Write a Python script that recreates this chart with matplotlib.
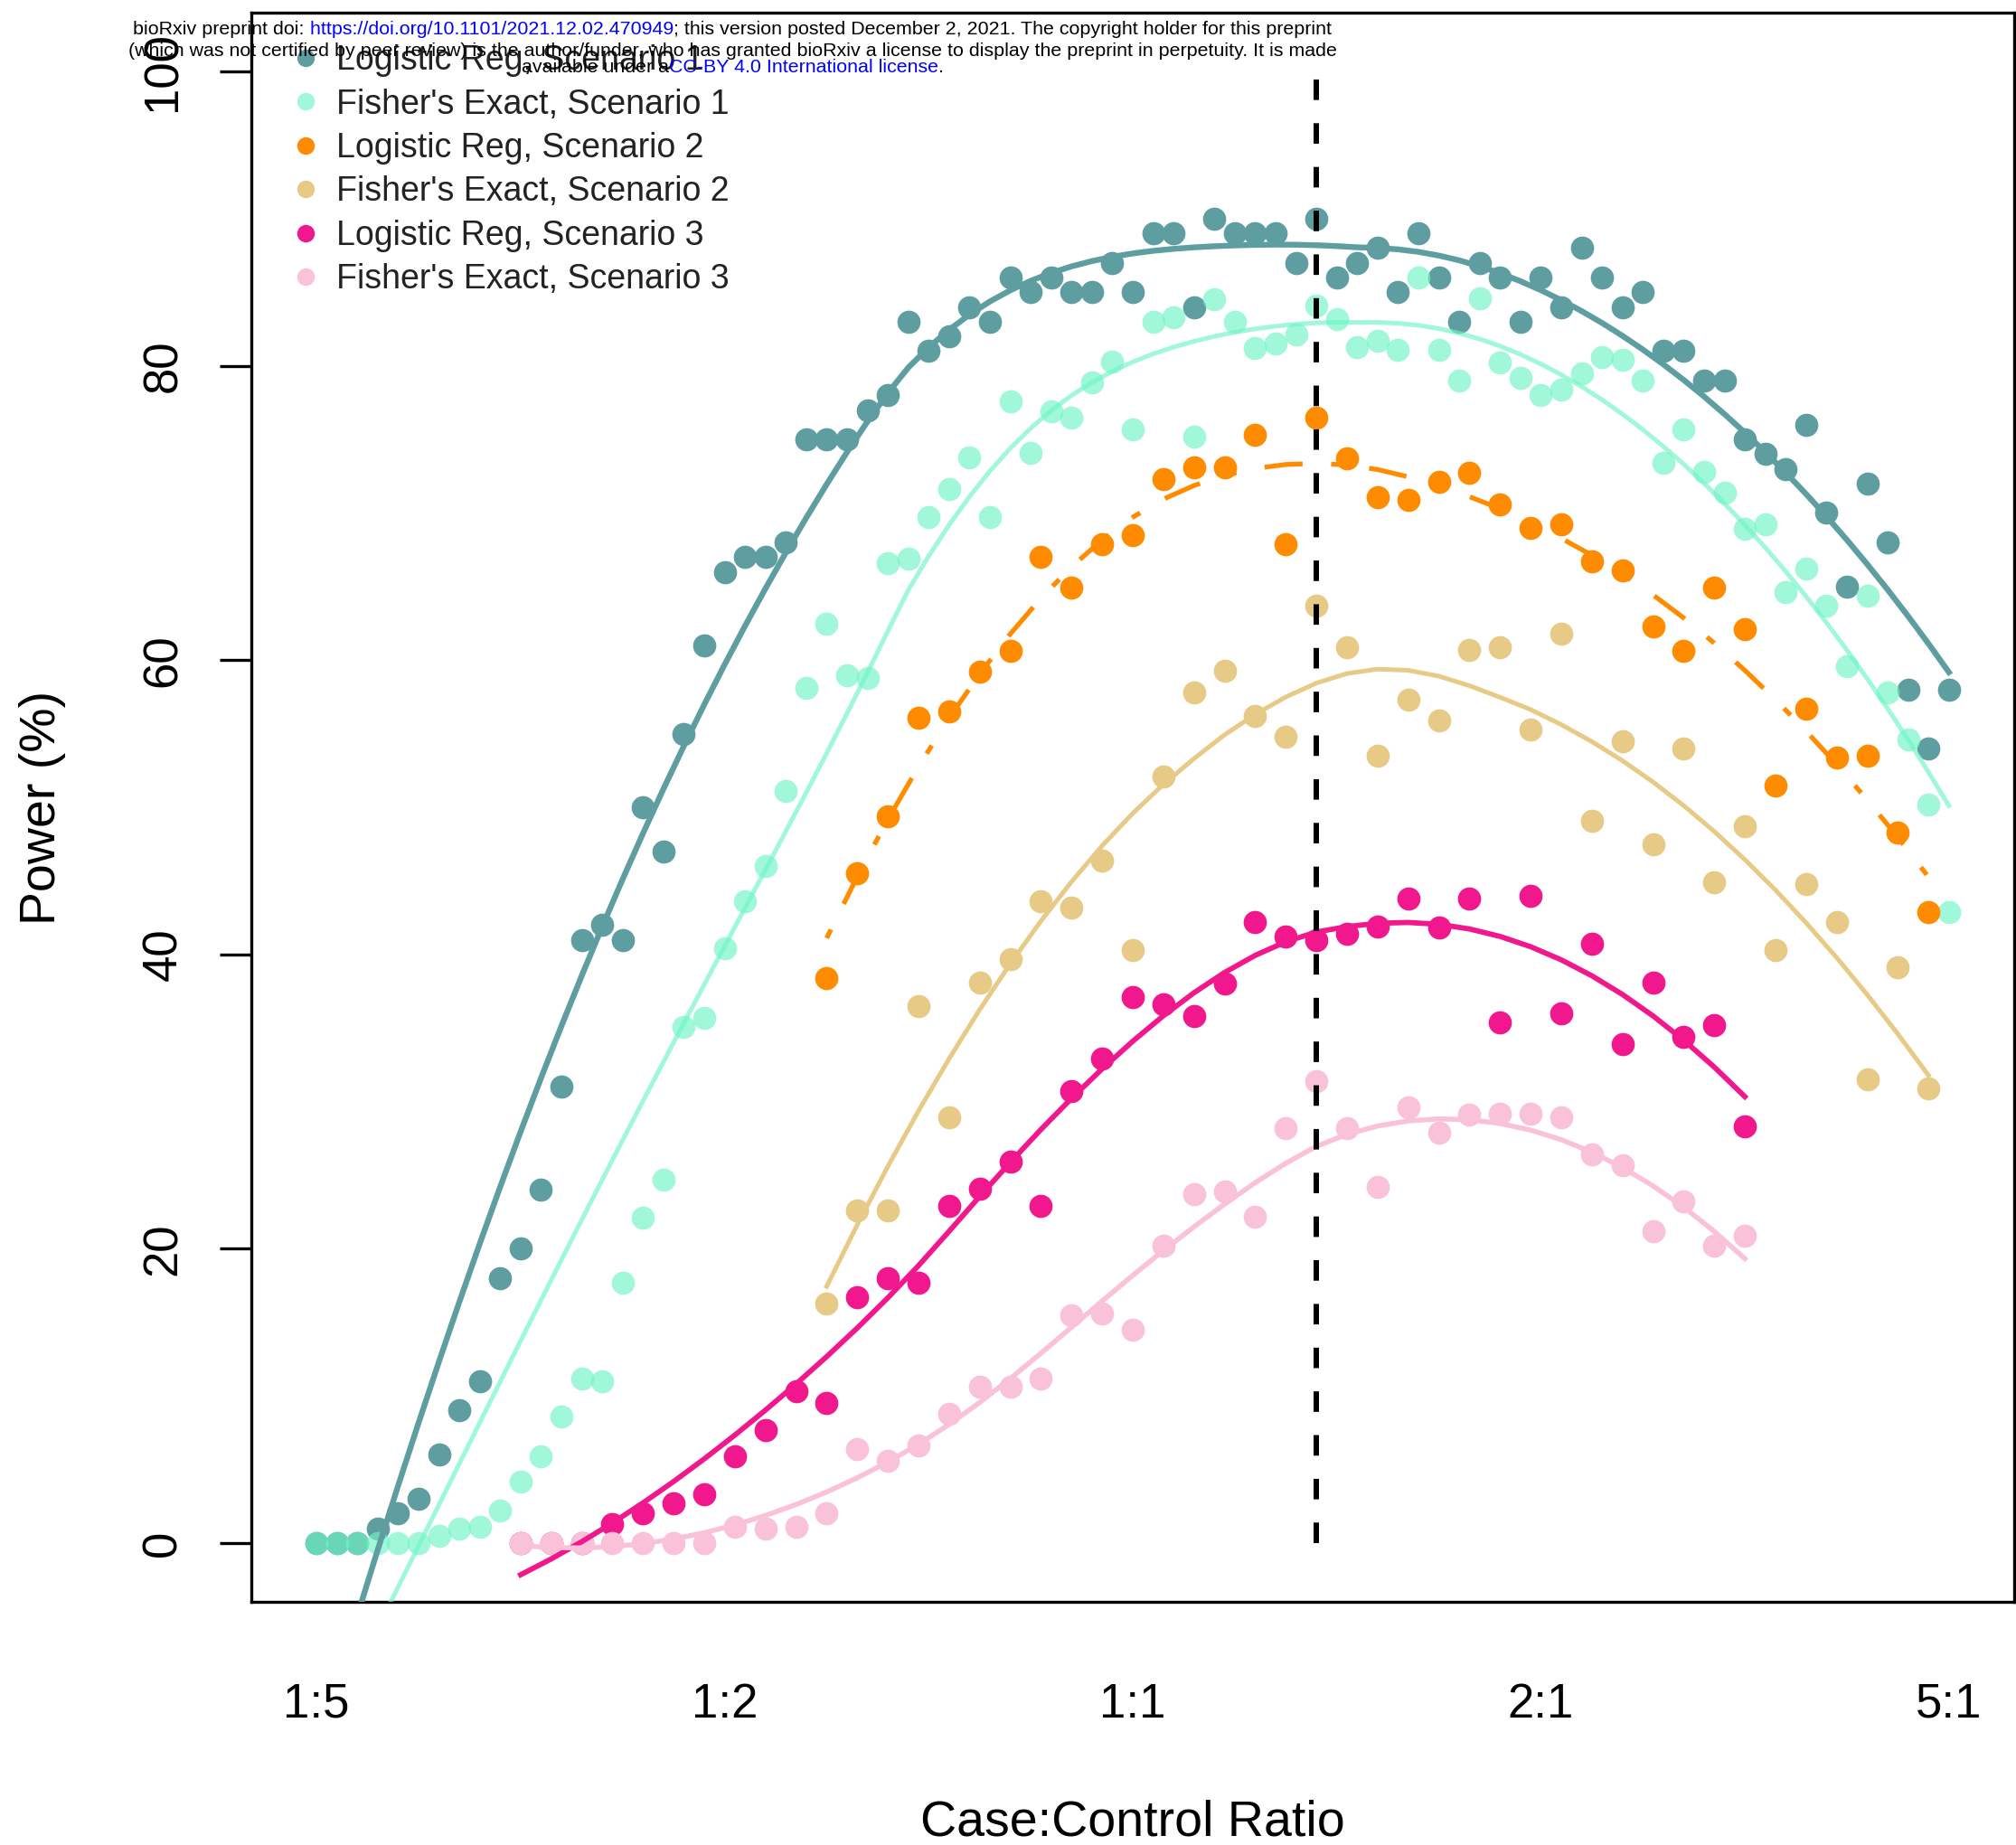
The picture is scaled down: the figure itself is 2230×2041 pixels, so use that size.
import numpy as np
import matplotlib
matplotlib.use("Agg")
import matplotlib.pyplot as plt
from matplotlib.lines import Line2D
from matplotlib.offsetbox import TextArea, HPacker, AnnotationBbox

plt.rcParams["font.family"] = ["Liberation Sans", "DejaVu Sans"]

# x = share of cases in the sample (1:5 -> 1/6 ... 5:1 -> 5/6)
prop_s1 = np.arange(20, 101) / 120
prop_s2 = np.arange(30, 67) / 80
prop_s3 = np.arange(20, 61) / 80

logit_s1 = [0, 0, 0, 1, 2, 3, 6, 9, 11, 18, 20, 24, 31, 41, 42, 41, 50, 47, 55, 61,
            66, 67, 67, 68, 75, 75, 75, 77, 78, 83, 81, 82, 84, 83, 86, 85, 86, 85, 85, 87,
            85, 89, 89, 84, 90, 89, 89, 89, 87, 90, 86, 87, 88, 85, 89, 86, 83, 87, 86, 83,
            86, 84, 88, 86, 84, 85, 81, 81, 79, 79, 75, 74, 73, 76, 70, 65, 72, 68, 58, 54,
            58]
fisher_s1 = [0, 0, 0, 0, 0, 0, 0.5, 1.0, 1.1, 2.2, 4.2, 5.9, 8.6, 11.2, 11.0, 17.7, 22.1, 24.7, 35.1, 35.7,
             40.4, 43.6, 46.0, 51.1, 58.1, 62.5, 59.0, 58.8, 66.6, 66.9, 69.7, 71.6, 73.8, 69.7, 77.6, 74.1, 76.9, 76.5, 78.9, 80.3,
             75.7, 83.0, 83.3, 75.2, 84.5, 83.0, 81.2, 81.5, 82.1, 84.1, 83.2, 81.3, 81.7, 81.1, 86.0, 81.1, 79.0, 84.6, 80.2, 79.2,
             78.0, 78.4, 79.5, 80.6, 80.4, 79.0, 73.4, 75.7, 72.8, 71.4, 68.9, 69.2, 64.6, 66.2, 63.7, 59.6, 64.4, 57.8, 54.6, 50.2,
             42.9]
logit_s2 = [38.4, 45.5, 49.4, 56.1, 56.5, 59.2, 60.6, 67.0, 64.9, 67.9, 68.5, 72.3, 73.1, 73.1, 75.3, 67.9, 76.5, 73.7, 71.1, 70.9,
            72.1, 72.7, 70.6, 69.0, 69.2, 66.7, 66.1, 62.3, 60.6, 64.9, 62.1, 51.5, 56.7, 53.4, 53.5, 48.3, 42.9]
fisher_s2 = [16.3, 22.6, 22.6, 36.5, 28.9, 38.1, 39.7, 43.6, 43.2, 46.4, 40.3, 52.1, 57.8, 59.3, 56.2, 54.8, 63.7, 60.9, 53.5, 57.3,
             55.9, 60.7, 60.9, 55.3, 61.8, 49.1, 54.5, 47.5, 54.0, 44.9, 48.7, 40.3, 44.8, 42.2, 31.5, 39.1, 30.9]
logit_s3 = [0, 0, 0, 1.3, 2.0, 2.7, 3.3, 5.9, 7.7, 10.3, 9.5, 16.7, 18.0, 17.7, 22.9, 24.1, 25.9, 22.9, 30.7, 32.9,
            37.1, 36.6, 35.8, 38.0, 42.2, 41.2, 41.0, 41.4, 41.9, 43.8, 41.8, 43.8, 35.4, 44.0, 36.0, 40.7, 33.9, 38.1, 34.4, 35.2,
            28.3]
fisher_s3 = [0, 0, 0, 0, 0, 0, 0, 1.1, 1.0, 1.1, 2.0, 6.4, 5.6, 6.6, 8.8, 10.6, 10.6, 11.2, 15.5, 15.6,
             14.5, 20.2, 23.7, 23.9, 22.2, 28.2, 31.4, 28.2, 24.2, 29.6, 27.9, 29.1, 29.2, 29.2, 28.9, 26.4, 25.7, 21.2, 23.2, 20.2,
             20.9]

labels = ["Logistic Reg, Scenario 1", "Fisher's Exact, Scenario 1",
          "Logistic Reg, Scenario 2", "Fisher's Exact, Scenario 2",
          "Logistic Reg, Scenario 3", "Fisher's Exact, Scenario 3"]
tick_pos = [1 / 6, 1 / 3, 1 / 2, 2 / 3, 5 / 6]
tick_labels = ["1:5", "1:2", "1:1", "2:1", "5:1"]
y_ticks = [0, 20, 40, 60, 80, 100]
ref_ratio = 0.575


def loess(x, y, span=0.75, degree=2):
    # local weighted polynomial fit (like R's loess defaults), evaluated at x
    x = np.asarray(x, float)
    y = np.asarray(y, float)
    n = len(x)
    q = int(np.floor(n * span))
    fit = np.empty(n)
    for i in range(n):
        d = np.abs(x - x[i])
        h = np.sort(d)[q - 1]
        u = np.clip(d / h, 0, 1)
        w = (1 - u ** 3) ** 3
        X = np.vander(x - x[i], degree + 1, increasing=True)
        sw = np.sqrt(w)
        coef, *_ = np.linalg.lstsq(X * sw[:, None], y * sw, rcond=None)
        fit[i] = coef[0]
    return fit


series = [
    (prop_s1, logit_s1, "#5F9EA0", 1.0, 4.6, "-"),
    (prop_s1, fisher_s1, "#6FF5C5", 0.65, 3.6, "-"),
    (prop_s2, logit_s2, "#FF8C00", 1.0, 3.8, (0, (2, 6, 8, 6))),
    (prop_s2, fisher_s2, "#E7CA86", 1.0, 3.6, "-"),
    (prop_s3, logit_s3, "#F0188C", 1.0, 4.2, "-"),
    (prop_s3, fisher_s3, "#FAC2D8", 1.0, 4.0, "-"),
]

fig = plt.figure(figsize=(22.3, 20.41), dpi=100)
ax = fig.add_axes([278 / 2230, 269 / 2041, 1950 / 2230, 1758 / 2041])

for x, y, color, alpha, lw, ls in series:
    ax.plot(x, y, "o", color=color, alpha=alpha, ms=18.5, mew=0, zorder=2)
for x, y, color, alpha, lw, ls in series:
    ax.plot(x, loess(x, y), color=color, alpha=alpha, lw=lw, ls=ls,
            dash_capstyle="butt", zorder=3)

ax.plot([ref_ratio, ref_ratio], [0, 100], color="black", lw=4.3,
        ls=(0, (3.8, 4.3)), dash_capstyle="butt", zorder=4)

ax.set_xlim(0.14, 0.86)
ax.set_ylim(-4, 104)
ax.set_xticks(tick_pos)
ax.set_xticklabels(tick_labels, fontsize=38)
ax.tick_params(axis="x", length=0, pad=64)
ax.set_yticks(y_ticks)
ax.set_yticklabels([str(v) for v in y_ticks], fontsize=38, rotation=90)
for lab in ax.get_yticklabels():
    lab.set_va("center")
ax.tick_params(axis="y", length=25, width=2.4, pad=27)
for s in ax.spines.values():
    s.set_linewidth(2.4)

ax.set_xlabel("Case:Control Ratio", fontsize=40)
ax.xaxis.set_label_coords(0.5, -0.1393)
ax.xaxis.label.set_va("center")
ax.set_ylabel("Power (%)", fontsize=40)
ax.yaxis.set_label_coords(-0.1185, 0.5)
ax.yaxis.label.set_va("center")

handles = [Line2D([], [], ls="none", marker="o", ms=14, mew=0, color=c, alpha=a)
           for _, _, c, a, _, _ in series]
ax.legend(handles, labels, loc="upper left", bbox_to_anchor=(0.023, 0.980),
          frameon=False, fontsize=27, handlelength=0.8, handletextpad=0.5,
          labelspacing=0.33, borderpad=0, borderaxespad=0, labelcolor="#222222")

# bioRxiv stamp
stamp_font = dict(fontsize=15.4, family=["Liberation Sans Narrow", "Liberation Sans"])
blue = "#0000FF"
stamp_lines = [
    ([("bioRxiv preprint doi:", "black"), (" https://doi.org/10.1101/2021.12.02.470949", blue),
      ("; this version posted December 2, 2021. The copyright holder for this preprint", "black")], 33),
    ([("(which was not certified by peer review) is the author/funder, who has granted bioRxiv "
       "a license to display the preprint in perpetuity. It is made", "black")], 57),
    ([("available under a", "black"), ("CC-BY 4.0 International license", blue), (".", "black")], 75),
]
for parts, ypix in stamp_lines:
    boxes = [TextArea(t, textprops=dict(color=c, **stamp_font)) for t, c in parts]
    pack = HPacker(children=boxes, align="baseline", pad=0, sep=0)
    ab = AnnotationBbox(pack, (810 / 2230, 1 - ypix / 2041), xycoords="figure fraction",
                        frameon=False, box_alignment=(0.5, 0.5), pad=0, zorder=10)
    fig.add_artist(ab)

fig.savefig("out.png", dpi=100)
